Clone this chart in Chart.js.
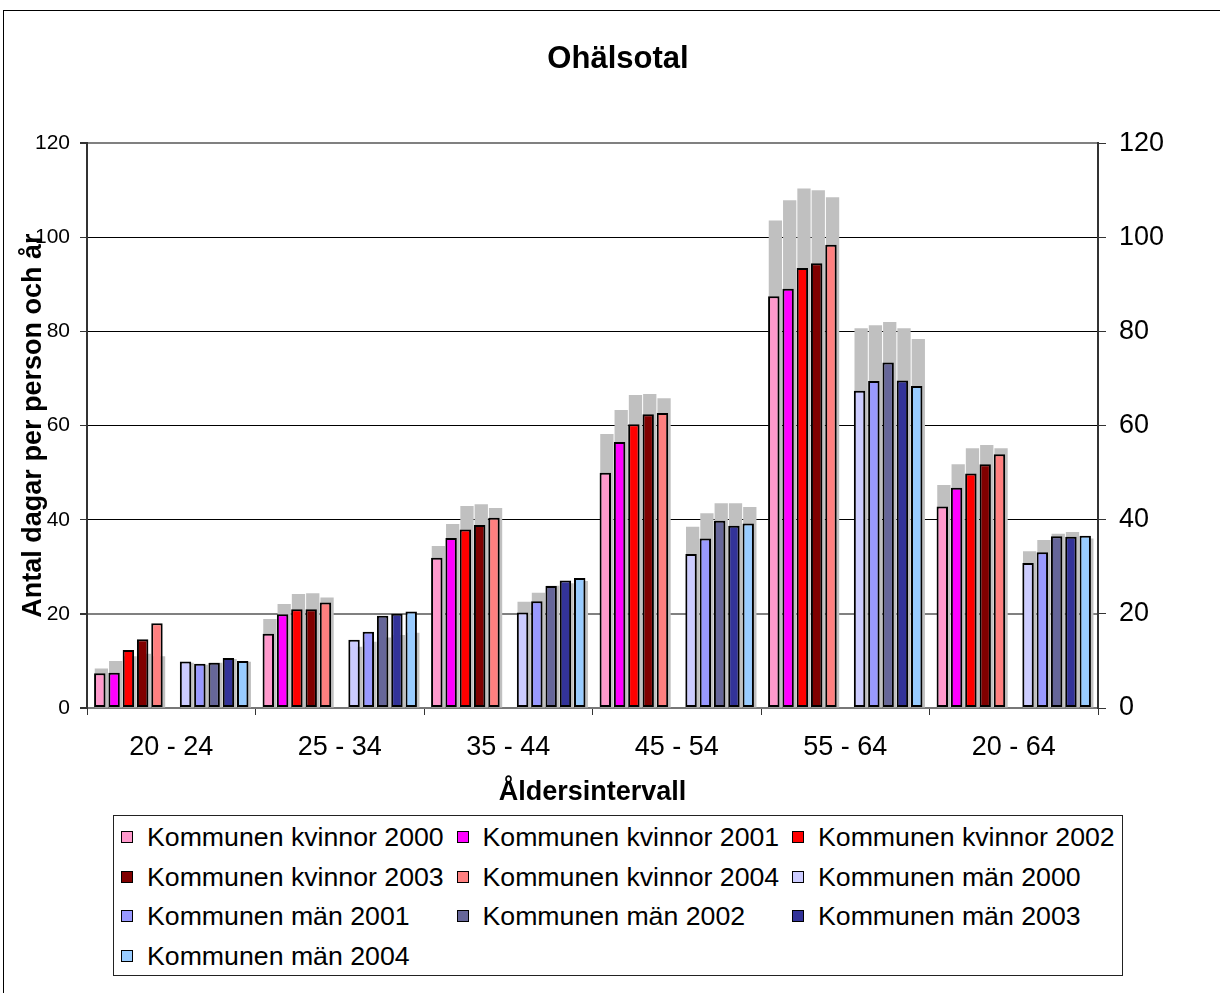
<!DOCTYPE html>
<html>
<head>
<meta charset="utf-8">
<script src="https://cdn.jsdelivr.net/npm/chart.js@4/dist/chart.umd.min.js"></script>
<style>
    html, body { margin: 0; padding: 0; background: #fff; overflow: hidden; }
    #wrap { position: relative; width: 1220px; height: 993px; overflow: hidden; }
    #frame { position: absolute; left: 3px; top: 10px; width: 1400px; height: 1200px; border: 1px solid #000; }
    #myChart { position: absolute; left: 0; top: 0; }
    #legend { position: absolute; left: 113px; top: 815px; width: 1008px; height: 159px; border: 1px solid #222; background: #fff;
              font-family: Arial, 'Liberation Sans', sans-serif; font-size: 26.7px; color: #000; }
    .item { position: absolute; height: 32px; line-height: 32px; display: flex; align-items: center; white-space: nowrap; }
    .swatch { width: 10px; height: 10px; border: 1px solid #000; margin-right: 14px; }
</style>
</head>
<body>
<div id="wrap">
    <div id="frame"></div>
    <canvas id="myChart" width="1220" height="993"></canvas>
    <div id="legend"></div>
</div>
<script>
const categories = ['20 - 24', '25 - 34', '35 - 44', '45 - 54', '55 - 64', '20 - 64'];

// Kommunen (coloured bars)
const kvinnor2000 = [7.4, 15.8, 31.9, 50.0, 87.5, 42.8];
const kvinnor2001 = [7.5, 19.9, 36.1, 56.5, 89.1, 46.8];
const kvinnor2002 = [12.3, 21.0, 37.9, 60.3, 93.5, 49.8];
const kvinnor2003 = [14.6, 21.0, 38.9, 62.4, 94.5, 51.8];
const kvinnor2004 = [18.0, 22.4, 40.4, 62.7, 98.4, 53.9];
const man2000 = [9.9, 14.5, 20.3, 32.7, 67.4, 30.8];
const man2001 = [9.4, 16.2, 22.7, 36.0, 69.5, 33.1];
const man2002 = [9.6, 19.6, 25.9, 39.8, 73.4, 36.5];
const man2003 = [10.6, 20.0, 27.1, 38.7, 69.6, 36.4];
const man2004 = [10.0, 20.5, 27.6, 39.2, 68.4, 36.6];

// grey comparison bars behind (secondary axis)
const riketKvinnor2000 = [8.4, 18.9, 34.4, 58.2, 103.6, 47.4];
const riketKvinnor2001 = [10.0, 22.1, 39.1, 63.3, 107.9, 51.8];
const riketKvinnor2002 = [11.0, 24.2, 42.9, 66.5, 110.4, 55.2];
const riketKvinnor2003 = [11.5, 24.4, 43.3, 66.7, 110.0, 55.9];
const riketKvinnor2004 = [11.0, 23.5, 42.5, 65.8, 108.5, 55.2];
const riketMan2000 = [9.6, 13.0, 22.6, 38.5, 80.7, 33.3];
const riketMan2001 = [9.2, 14.1, 24.5, 41.4, 81.3, 35.7];
const riketMan2002 = [9.6, 15.0, 26.0, 43.5, 82.0, 37.0];
const riketMan2003 = [10.4, 15.5, 26.5, 43.5, 80.7, 37.4];
const riketMan2004 = [9.8, 16.0, 27.0, 42.7, 78.4, 36.0];

const kommunLabels = ['Kommunen kvinnor 2000', 'Kommunen kvinnor 2001', 'Kommunen kvinnor 2002', 'Kommunen kvinnor 2003', 'Kommunen kvinnor 2004',
                      'Kommunen män 2000', 'Kommunen män 2001', 'Kommunen män 2002', 'Kommunen män 2003', 'Kommunen män 2004'];
const riketLabels = ['Riket kvinnor 2000', 'Riket kvinnor 2001', 'Riket kvinnor 2002', 'Riket kvinnor 2003', 'Riket kvinnor 2004',
                     'Riket män 2000', 'Riket män 2001', 'Riket män 2002', 'Riket män 2003', 'Riket män 2004'];
const kommunData = [kvinnor2000, kvinnor2001, kvinnor2002, kvinnor2003, kvinnor2004, man2000, man2001, man2002, man2003, man2004];
const riketData = [riketKvinnor2000, riketKvinnor2001, riketKvinnor2002, riketKvinnor2003, riketKvinnor2004,
                   riketMan2000, riketMan2001, riketMan2002, riketMan2003, riketMan2004];
const colors = ['#FF99CC', '#FF00FF', '#FF0000', '#800000', '#FF8080', '#CCCCFF', '#9999FF', '#666699', '#333399', '#99CCFF'];
const yTicks = [0, 20, 40, 60, 80, 100, 120];

const FONT = "Arial, 'Liberation Sans', sans-serif";
const CAT_PCT = 0.933;

// slot key for each series: women 0-4, empty gap slot, men 6-10
const slotOf = (i) => 'slot' + (i < 5 ? i : i + 1);

const colouredSets = kommunData.map((d, i) => ({
    label: kommunLabels[i],
    data: d,
    backgroundColor: colors[i],
    borderColor: '#000',
    borderWidth: 2,
    borderSkipped: false,
    stack: slotOf(i),
    yAxisID: 'y',
    order: 0,
    categoryPercentage: CAT_PCT,
    barPercentage: 0.8
}));
// empty gap between the women and the men
colouredSets.splice(5, 0, {
    label: '', data: categories.map(() => null), stack: 'slot5', yAxisID: 'y', order: 0,
    categoryPercentage: CAT_PCT, barPercentage: 0.8
});

const greySets = riketData.map((d, i) => ({
    label: riketLabels[i],
    data: d,
    backgroundColor: '#C0C0C0',
    borderWidth: 0,
    stack: slotOf(i),
    yAxisID: 'y2',
    order: 1,
    categoryPercentage: CAT_PCT,
    barPercentage: 0.93
}));

// grey bars sit a touch to the right of the coloured ones
const shiftRiket = {
    id: 'shiftRiket',
    beforeDatasetDraw(chart, args) {
        if (chart.data.datasets[args.index].yAxisID === 'y2') {
            chart.ctx.save();
            chart.ctx.translate(1.6, 0);
        }
    },
    afterDatasetDraw(chart, args) {
        if (chart.data.datasets[args.index].yAxisID === 'y2') chart.ctx.restore();
    }
};

const greyLine = (c) => c.tick && [0, 20, 120].includes(c.tick.value);

const ctx = document.getElementById('myChart').getContext('2d');
new Chart(ctx, {
    type: 'bar',
    data: { labels: categories, datasets: colouredSets.concat(greySets) },
    plugins: [shiftRiket],
    options: {
        responsive: false,
        animation: false,
        devicePixelRatio: 1,
        layout: { padding: { left: 16, right: 0, top: 0, bottom: 180 } },
        plugins: {
            legend: { display: false },
            tooltip: { enabled: false },
            title: {
                display: true,
                text: 'Ohälsotal',
                color: '#000',
                font: { family: FONT, size: 31, weight: 'bold' },
                padding: { top: 41, bottom: 65 }
            }
        },
        scales: {
            x: {
                type: 'category',
                offset: true,
                grid: { display: true, drawOnChartArea: false, drawTicks: true, tickLength: 7, color: '#333', offset: true },
                border: { display: true, color: '#777', width: 2 },
                ticks: { color: '#000', font: { family: FONT, size: 27 }, padding: 16, maxRotation: 0 },
                title: {
                    display: true, text: 'Åldersintervall', color: '#000',
                    font: { family: FONT, size: 27, weight: 'bold' }, padding: { top: 0, bottom: 4 }
                },
                afterFit: (s) => { s.height = 105; }
            },
            y: {
                position: 'left',
                stacked: false,
                min: 0, max: 120,
                afterBuildTicks: (s) => { s.ticks = yTicks.map(v => ({ value: v })); },
                ticks: { color: '#000', font: { family: FONT, size: 21 }, padding: 10 },
                grid: {
                    color: (c) => greyLine(c) ? '#808080' : '#000',
                    lineWidth: (c) => greyLine(c) ? 2 : 1,
                    tickColor: '#333',
                    tickLength: 7
                },
                border: { display: true, color: '#333', width: 2 },
                title: {
                    display: true, text: 'Antal dagar per person och år', color: '#000',
                    font: { family: FONT, size: 27, weight: 'bold' }, padding: { top: 1, bottom: 0 }
                },
                afterFit: (s) => { s.width = 71; }
            },
            y2: {
                position: 'right',
                stacked: false,
                min: 0, max: 120,
                afterBuildTicks: (s) => { s.ticks = yTicks.map(v => ({ value: v })); },
                ticks: { color: '#000', font: { family: FONT, size: 27 }, padding: 13 },
                grid: { drawOnChartArea: false, color: '#333', tickLength: 8 },
                border: { display: true, color: '#333', width: 2 },
                afterFit: (s) => { s.width = 122; }
            }
        }
    }
});

// legend: 3 columns, same order as the series
const legend = document.getElementById('legend');
kommunLabels.forEach((label, i) => {
    const col = i % 3, row = Math.floor(i / 3);
    const item = document.createElement('div');
    item.className = 'item';
    item.style.left = (7 + col * 335.5) + 'px';
    item.style.top = (5 + row * 39.7) + 'px';
    const sw = document.createElement('span');
    sw.className = 'swatch';
    sw.style.background = colors[i];
    const txt = document.createElement('span');
    txt.textContent = label;
    item.appendChild(sw);
    item.appendChild(txt);
    legend.appendChild(item);
});
</script>
</body>
</html>
